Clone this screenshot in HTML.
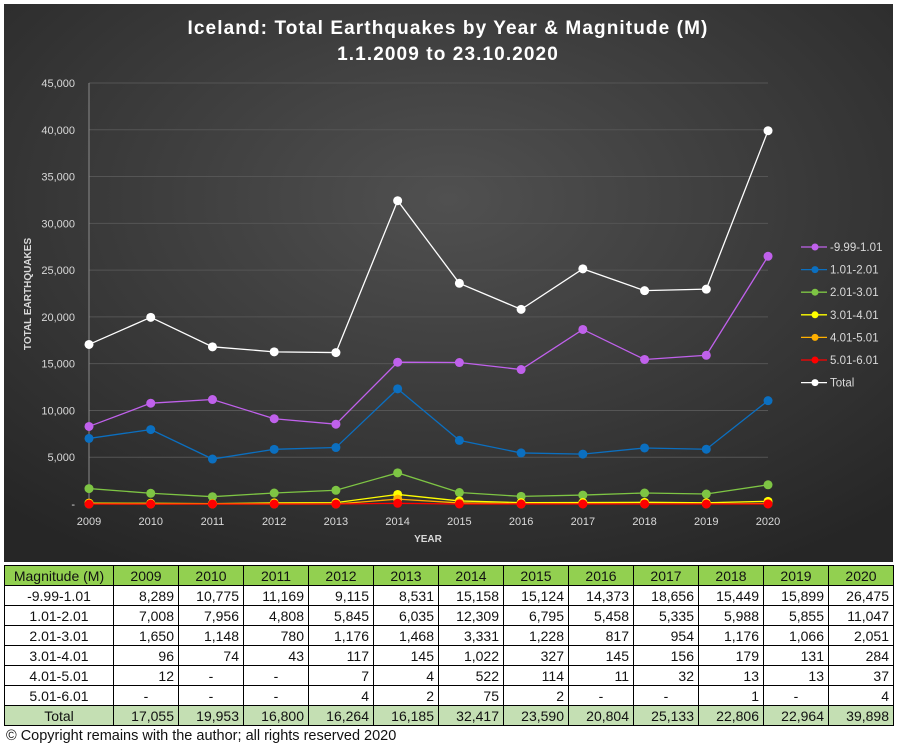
<!DOCTYPE html>
<html><head><meta charset="utf-8"><style>
body{margin:0;width:897px;height:749px;background:#fff;font-family:"Liberation Sans",sans-serif;overflow:hidden;position:relative}
#chart{position:absolute;left:4px;top:4px;width:889px;height:558px}
table{position:absolute;left:4px;top:565px;border-collapse:collapse;font-size:14px;color:#111}
td{border:1px solid #000;height:19px;padding:0 4px;text-align:right;width:56px}
td:first-child{width:100px;text-align:center}
tr.h td{background:#92d050;text-align:center}
tr.t td{background:#c4dfb3}
tr.t td:first-child{text-align:center}
#copy{position:absolute;left:6px;top:728px;font-size:14.5px;color:#111}
</style></head><body>
<svg id="chart" width="889" height="558" viewBox="4 4 889 558" xmlns="http://www.w3.org/2000/svg">
<defs><radialGradient id="g" cx="0.5" cy="0.35" r="0.75"><stop offset="0" stop-color="#505050"/><stop offset="1" stop-color="#262626"/></radialGradient></defs>
<rect x="4" y="4" width="889" height="558" fill="url(#g)"/>
<text x="448" y="34" fill="#fff" font-size="19" font-weight="bold" text-anchor="middle" letter-spacing="1.1">Iceland: Total Earthquakes by Year &amp; Magnitude (M)</text>
<text x="448" y="60" fill="#fff" font-size="19" font-weight="bold" text-anchor="middle" letter-spacing="1.1">1.1.2009 to 23.10.2020</text>
<g id="grid"></g>
<text transform="translate(31,294) rotate(-90)" fill="#d9d9d9" font-size="10" font-weight="bold" text-anchor="middle">TOTAL EARTHQUAKES</text>
<text x="428" y="542" fill="#d9d9d9" font-size="10" font-weight="bold" text-anchor="middle">YEAR</text>
<g id="series"></g>
<g id="leg"></g>
</svg>
<table id="tb"></table>
<div id="copy">© Copyright remains with the author; all rights reserved 2020</div>
<script>
var NS="http://www.w3.org/2000/svg";
function el(p,t,a,txt){var e=document.createElementNS(NS,t);for(var k in a)e.setAttribute(k,a[k]);if(txt!=null)e.textContent=txt;p.appendChild(e);return e;}
var X=function(i){return 89+i*61.73}, Y=function(v){return 504-v*421/45000};
var g=document.getElementById('grid');
for(var v=0;v<=45000;v+=5000){
 if(v>0)el(g,'line',{x1:89,x2:768,y1:Y(v),y2:Y(v),stroke:'#555','stroke-width':1});
 el(g,'text',{x:75,y:Y(v)+4,fill:'#d9d9d9','font-size':11,'text-anchor':'end'},v?v.toLocaleString('en-US'):'-');
}
el(g,'line',{x1:89,x2:89,y1:83,y2:504,stroke:'#8a8a8a'});
for(var i=0;i<12;i++)el(g,'text',{x:X(i),y:525,fill:'#d9d9d9','font-size':11,'text-anchor':'middle'},2009+i);
var data=[
["-9.99-1.01","#c061ec",[8289,10775,11169,9115,8531,15158,15124,14373,18656,15449,15899,26475]],
["1.01-2.01","#0b6fc0",[7008,7956,4808,5845,6035,12309,6795,5458,5335,5988,5855,11047]],
["2.01-3.01","#7ec544",[1650,1148,780,1176,1468,3331,1228,817,954,1176,1066,2051]],
["3.01-4.01","#ffff00",[96,74,43,117,145,1022,327,145,156,179,131,284]],
["4.01-5.01","#ffb000",[12,0,0,7,4,522,114,11,32,13,13,37]],
["5.01-6.01","#ff0000",[0,0,0,4,2,75,2,0,0,1,0,4]],
["Total","#ffffff",[17055,19953,16800,16264,16185,32417,23590,20804,25133,22806,22964,39898]]];
var s=document.getElementById('series'),L=document.getElementById('leg');
data.forEach(function(d,k){
 var pts=d[2].map(function(v,i){return X(i)+','+Y(v)}).join(' ');
 el(s,'polyline',{points:pts,fill:'none',stroke:d[1],'stroke-width':1.3});
 d[2].forEach(function(v,i){el(s,'circle',{cx:X(i),cy:Y(v),r:4.5,fill:d[1]});});
 var y=247+k*22.6;
 el(L,'line',{x1:801,x2:827,y1:y,y2:y,stroke:d[1],'stroke-width':1.3});
 el(L,'circle',{cx:815,cy:y,r:3.5,fill:d[1]});
 el(L,'text',{x:830,y:y+4,fill:'#d9d9d9','font-size':11.5},d[0]);
});
var tb=document.getElementById('tb'),h='<tr class="h"><td>Magnitude (M)</td>';
for(var i=0;i<12;i++)h+='<td>'+(2009+i)+'</td>';h+='</tr>';
data.forEach(function(d,k){h+='<tr'+(k==6?' class="t"':'')+'><td>'+d[0]+'</td>';
 d[2].forEach(function(v){h+='<td'+(v?'':' style="text-align:center"')+'>'+(v?v.toLocaleString('en-US'):'-')+'</td>';});h+='</tr>';});
tb.innerHTML=h;
</script>
</body></html>
